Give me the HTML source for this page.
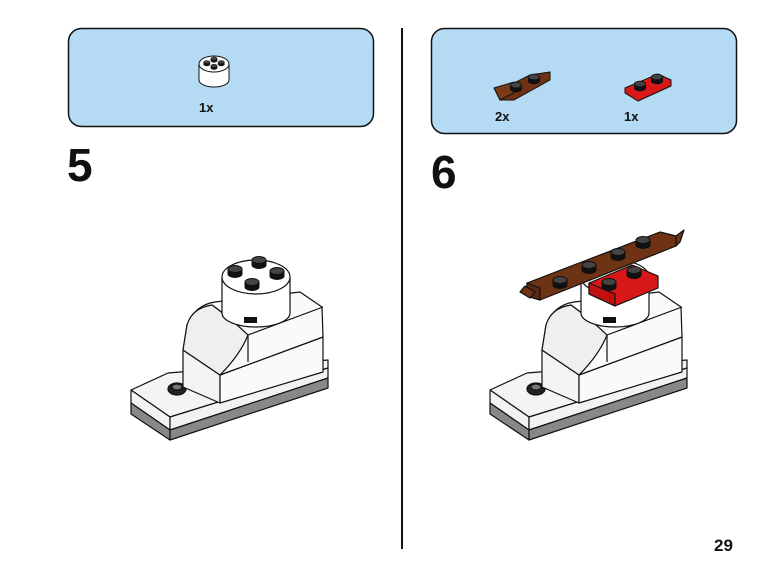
<!DOCTYPE html>
<html><head><meta charset="utf-8"><style>
body{margin:0;background:#fff;width:765px;height:578px;overflow:hidden}
svg{display:block}
text{font-family:"Liberation Sans",Arial,sans-serif;font-weight:bold;fill:#111}
</style></head><body>
<svg width="765" height="578" viewBox="0 0 765 578" xmlns="http://www.w3.org/2000/svg">
<defs>
<g id="base" stroke="#111" stroke-width="1.2" stroke-linejoin="round">
  <polygon points="131,390 168,373 328,360 328,368 170,417" fill="#f4f4f4"/>
  <polygon points="131,390 170,417 170,430 131,403" fill="#f2f2f2"/>
  <polygon points="131,403 170,430 170,440 131,414" fill="#888"/>
  <polygon points="170,417 328,368 328,378 170,430" fill="#f2f2f2"/>
  <polygon points="170,430 328,378 328,388 170,440" fill="#888"/>
  <ellipse cx="177" cy="389" rx="9" ry="6" fill="#222"/>
  <ellipse cx="177" cy="387" rx="5" ry="3" fill="#777"/>
  <polygon points="183,350 220,375 220,403 183,387" fill="#f4f4f4"/>
  <polygon points="220,375 323,337 323,372 220,403" fill="#fafafa"/>
  <path d="M183,350 L187,325 Q195,305 215,302 L300,292 L322,307 L323,337 L220,375 Q240,350 248,335 Q230,318 212,305" fill="#fafafa"/>
  <path d="M183,350 L187,325 Q192,308 212,305 Q230,318 248,335 Q240,355 220,375 Z" fill="#efefef"/>
  <line x1="248" y1="335" x2="248" y2="362" />
  <line x1="248" y1="335" x2="323" y2="307"/>
  <path d="M222,277 L222,313 A34,14 0 0 0 290,313 L290,277 Z" fill="#fff"/>
  <rect x="244" y="317" width="13" height="6" fill="#111" stroke="none"/>
  <ellipse cx="256" cy="277" rx="34" ry="17" fill="#fff"/>
</g>
<g id="stud" stroke="#111" stroke-width="1">
  <path d="M-7,0 L-7,5 A7,3.5 0 0 0 7,5 L7,0 Z" fill="#111"/>
  <ellipse cx="0" cy="0" rx="7" ry="3.5" fill="#444"/>
</g>
</defs>

<rect x="68.5" y="28.5" width="305" height="98" rx="13" fill="#b5daf3" stroke="#111" stroke-width="1.5"/>
<rect x="431.5" y="28.5" width="305" height="105" rx="13" fill="#b5daf3" stroke="#111" stroke-width="1.5"/>
<line x1="402" y1="28" x2="402" y2="549" stroke="#111" stroke-width="2"/>

<g stroke="#111" stroke-width="1">
  <path d="M199,64 L199,80 A15,7 0 0 0 229,80 L229,64 Z" fill="#fff"/>
  <ellipse cx="214" cy="64" rx="15" ry="8" fill="#fff"/>
</g>
<g transform="translate(214,63) scale(0.45)"><use href="#stud" x="-16" y="-2"/><use href="#stud" x="0" y="-10"/><use href="#stud" x="16" y="-2"/><use href="#stud" x="0" y="6"/></g>
<text x="199" y="112" font-size="13">1x</text>

<g stroke="#111" stroke-width="1">
  <polygon points="496,92 530,75 550,72 550,80 514,100 500,100" fill="#6e3214"/>
  <polygon points="494,88 514,82 514,93 500,100" fill="#7c3a18"/>
  <polygon points="625,88 658,74 671,80 671,86 638,101 625,93" fill="#d81818"/>
</g>
<g transform="translate(516,85) scale(0.8)"><use href="#stud"/></g>
<g transform="translate(534,77) scale(0.8)"><use href="#stud"/></g>
<g transform="translate(640,84) scale(0.8)"><use href="#stud"/></g>
<g transform="translate(657,77) scale(0.8)"><use href="#stud"/></g>
<text x="495" y="121" font-size="13">2x</text>
<text x="624" y="121" font-size="13">1x</text>

<text x="67" y="181" font-size="46">5</text>
<text x="431" y="188" font-size="46">6</text>
<text x="714" y="551" font-size="17">29</text>

<use href="#base"/>
<use href="#stud" x="235" y="269"/><use href="#stud" x="259" y="260"/><use href="#stud" x="277" y="271"/><use href="#stud" x="252" y="282"/>

<use href="#base" x="359" y="0"/>
<g stroke="#111" stroke-width="1.2" stroke-linejoin="round">
  <polygon points="527,283 660,232 676,236 676,246 540,300 527,296" fill="#6e3214"/>
  <polygon points="527,283 540,288 540,300 527,296" fill="#5a2810"/>
  <path d="M525,286 L520,292 L530,298 L535,292 Z" fill="#6e3214"/>
  <path d="M676,236 L684,230 L680,242 L676,246 Z" fill="#6e3214"/>
  <polygon points="589,283 632,265 658,276 658,288 615,306 589,294" fill="#d81818"/>
  <polygon points="589,283 615,294 615,306 589,294" fill="#c01010"/>
</g>
<use href="#stud" x="560" y="280"/><use href="#stud" x="589" y="265"/><use href="#stud" x="618" y="252"/><use href="#stud" x="643" y="240"/>
<use href="#stud" x="609" y="282"/><use href="#stud" x="634" y="270"/>
</svg>
</body></html>
